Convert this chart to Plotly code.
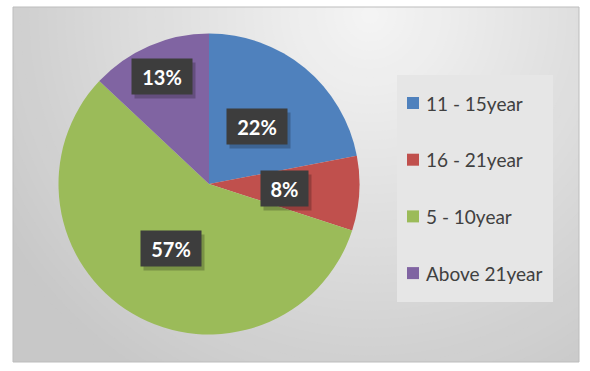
import plotly.graph_objects as go
import math

# ---- data ----
labels = ["11 - 15year", "16 - 21year", "5 - 10year", "Above 21year"]
values = [22, 8, 57, 13]
colors = ["#4F81BD", "#C0504D", "#9BBB59", "#8064A2"]
label_radius = [0.5, 0.5, 0.5, 0.78]  # fraction of pie radius for data labels

W, H = 590, 371


def px(x):
    return x / W


def py(y):
    return 1 - y / H


# chart frame in pixels
FX0, FX1, FY0, FY1 = 13, 579, 7, 362
# pie geometry in pixels
cx, cy, R = 209, 184, 150.5

fig = go.Figure()
# invisible carrier trace for the background axes
fig.add_trace(go.Scatter(x=[], y=[], showlegend=False, hoverinfo="skip"))

fig.add_trace(go.Pie(
    labels=labels,
    values=values,
    marker=dict(colors=colors, line=dict(width=0)),
    sort=False,
    direction="clockwise",
    rotation=0,
    textinfo="none",
    hoverinfo="label+percent",
    showlegend=False,
    domain=dict(x=[px(cx - R), px(cx + R)], y=[py(cy + R), py(cy - R)]),
))

shapes = []
annotations = []

# soft radial background (clipped to the frame via axis refs)
gcx, gcy, gmax = 370, 15, 430
n = 48
for i in range(n):
    r = gmax * (1 - i / n)
    g = int(round(200 + 45 * (1 - r / gmax)))
    col = f"rgb({g},{g},{g})"
    shapes.append(dict(type="circle", xref="x", yref="y",
                       x0=gcx - r, x1=gcx + r, y0=gcy - r, y1=gcy + r,
                       fillcolor=col, line=dict(width=0), layer="below"))

# frame border
shapes.append(dict(type="rect", xref="paper", yref="paper",
                   x0=px(FX0), x1=px(FX1), y0=py(FY1), y1=py(FY0),
                   fillcolor="rgba(0,0,0,0)", line=dict(color="#bdbdbd", width=1),
                   layer="above"))

# data labels (boxes)
total = sum(values)
cum = 0
for lab, v, rf in zip(labels, values, label_radius):
    mid = (cum + v / 2) / total * 2 * math.pi
    cum += v
    lx = cx + rf * R * math.sin(mid)
    ly = cy - rf * R * math.cos(mid)
    txt = f"{round(v / total * 100)}%"
    wbox = 13 * len(txt) + 17
    # shadow
    annotations.append(dict(x=px(lx + 3), y=py(ly + 4), xref="paper", yref="paper",
                            xanchor="center", yanchor="middle",
                            text=" ", showarrow=False, width=wbox, height=31,
                            bgcolor="rgba(0,0,0,0.22)", borderpad=2,
                            font=dict(size=20)))
    annotations.append(dict(x=px(lx), y=py(ly), xref="paper", yref="paper",
                            xanchor="center", yanchor="middle",
                            text=f"<b>{txt}</b>", showarrow=False,
                            width=wbox, height=31, borderpad=2,
                            bgcolor="#3d3d3d",
                            font=dict(family="Lato, Carlito, sans-serif", size=20, color="white")))

# custom legend
shapes.append(dict(type="rect", xref="paper", yref="paper",
                   x0=px(397), x1=px(553), y0=py(302), y1=py(75),
                   fillcolor="#e6e6e6", line=dict(width=0), layer="above"))
leg_y0, leg_dy = 103, 56.7
for i, (lab, col) in enumerate(zip(labels, colors)):
    yy = leg_y0 + i * leg_dy
    shapes.append(dict(type="rect", xref="paper", yref="paper",
                       x0=px(407), x1=px(419), y0=py(yy + 6), y1=py(yy - 6),
                       fillcolor=col, line=dict(width=0), layer="above"))
    annotations.append(dict(x=px(424), y=py(yy), xref="paper", yref="paper",
                            text=lab, showarrow=False, xanchor="left", yanchor="middle",
                            font=dict(family="Lato, Carlito, sans-serif", size=19, color="#404040")))

fig.update_layout(
    width=W, height=H,
    margin=dict(l=0, r=0, t=0, b=0),
    paper_bgcolor="white",
    plot_bgcolor="rgb(200,200,200)",
    xaxis=dict(domain=[px(FX0), px(FX1)], range=[FX0, FX1], visible=False, fixedrange=True),
    yaxis=dict(domain=[py(FY1), py(FY0)], range=[FY1, FY0], visible=False, fixedrange=True),
    shapes=shapes,
    annotations=annotations,
    showlegend=False,
)

fig.write_html("out.html", config={"displayModeBar": False},
               post_script="document.body.style.margin='0';")
